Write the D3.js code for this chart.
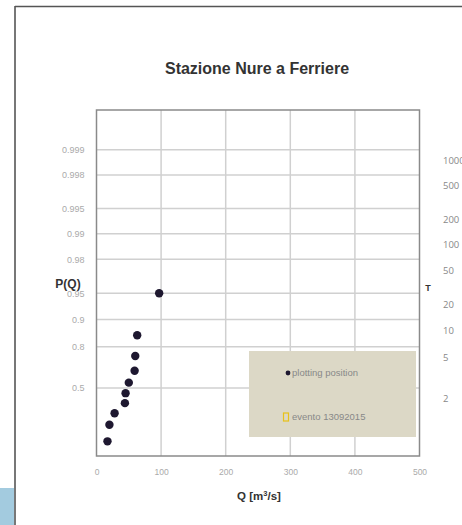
<!DOCTYPE html>
<html><head><meta charset="utf-8">
<script src="https://cdn.jsdelivr.net/npm/d3@7/dist/d3.min.js"></script>
<style>body{margin:0;background:#fff}svg{display:block}</style>
</head><body>
<svg id="c" width="462" height="525"></svg>
<script>
// ---- data ----
const qValues = [17, 20, 28, 44, 45, 50, 59, 60, 63, 97];          // Q [m3/s]
const pValues = [0.05, 0.15, 0.25, 0.35, 0.45, 0.55, 0.65, 0.75, 0.85, 0.95]; // plotting position
const evento = [];                                                    // evento 13092015 (not visible)
const xTicks = [0, 100, 200, 300, 400, 500];
const pTicks = [0.5, 0.8, 0.9, 0.95, 0.98, 0.99, 0.995, 0.998, 0.999];
const pTickLabels = ["0.5", "0.8", "0.9", "0.95", "0.98", "0.99", "0.995", "0.998", "0.999"];
const tTicks = [2, 5, 10, 20, 50, 100, 200, 500, 1000];
const legendLabels = ["plotting position", "evento 13092015"];

const gumbel = p => -Math.log(-Math.log(p));
const svg = d3.select("#c");
const F = "'Liberation Sans', Arial, sans-serif";

// frame
svg.append("rect").attr("x",0).attr("y",488).attr("width",14).attr("height",37).attr("fill","#a3cbdf");
svg.append("line").attr("x1",15).attr("x2",15).attr("y1",6).attr("y2",525).attr("stroke","#555").attr("stroke-width",1.6);
svg.append("line").attr("x1",15).attr("x2",462).attr("y1",6.5).attr("y2",6.5).attr("stroke","#555").attr("stroke-width",1.6);

const L = 96.5, R = 419.5, T = 110, B = 456;
const x = d3.scaleLinear().domain([0, 500]).range([L, R]);
const y = d3.scaleLinear().domain([-1.5, 8]).range([B, T]);

// title
svg.append("text").attr("x",257).attr("y",74).attr("text-anchor","middle")
  .attr("font-family",F).attr("font-weight","bold").attr("font-size",16).attr("fill","#333")
  .text("Stazione Nure a Ferriere");

// grid
const g = svg.append("g");
g.selectAll(".vg").data(xTicks.slice(1,-1)).join("line")
  .attr("x1",d=>x(d)).attr("x2",d=>x(d)).attr("y1",T).attr("y2",B)
  .attr("stroke","#d0d0d0").attr("stroke-width",1.5);
g.selectAll(".hg").data(pTicks).join("line")
  .attr("x1",L).attr("x2",R).attr("y1",d=>y(gumbel(d))).attr("y2",d=>y(gumbel(d)))
  .attr("stroke","#d0d0d0").attr("stroke-width",1.5);
svg.append("rect").attr("x",L).attr("y",T).attr("width",R-L).attr("height",B-T)
  .attr("fill","none").attr("stroke","#8a8a8a").attr("stroke-width",1.5);

// axes
const xa = svg.append("g").attr("transform",`translate(0,${B})`)
  .call(d3.axisBottom(x).tickValues(xTicks).tickSize(0).tickPadding(13).tickFormat(d3.format("d")));
xa.select(".domain").remove();
xa.selectAll("text").attr("font-family",F).attr("font-size",8.5).attr("fill","#aaa");

const ya = svg.append("g").attr("transform",`translate(${L},0)`)
  .call(d3.axisLeft(y).tickValues(pTicks.map(gumbel)).tickSize(0).tickPadding(12)
    .tickFormat((d,i)=>pTickLabels[i]));
ya.select(".domain").remove();
ya.selectAll("text").attr("font-family",F).attr("font-size",9).attr("fill","#aaa");

// right T labels
svg.selectAll(".tl").data(tTicks).join("text")
  .attr("x",443).attr("y",d=>y(gumbel(1-1/d))+11).attr("dy","0.35em")
  .attr("font-family","'Open Sans', sans-serif").attr("font-size",9.5).attr("fill","#888")
  .text(d=>d);

// axis titles
svg.append("text").attr("x",68).attr("y",288).attr("text-anchor","middle")
  .attr("font-family",F).attr("font-weight","bold").attr("font-size",12).attr("fill","#333").text("P(Q)");
svg.append("text").attr("x",428).attr("y",291).attr("text-anchor","middle")
  .attr("font-family",F).attr("font-weight","bold").attr("font-size",9).attr("fill","#333").text("T");
const xt = svg.append("text").attr("x",259).attr("y",500).attr("text-anchor","middle")
  .attr("font-family",F).attr("font-weight","bold").attr("font-size",11.5).attr("fill","#333");
xt.append("tspan").text("Q [m");
xt.append("tspan").attr("font-size",7.5).attr("dy",-4).text("3");
xt.append("tspan").attr("dy",4).text("/s]");

// points
svg.selectAll(".pt").data(qValues.map((q,i)=>({q,p:pValues[i]}))).join("circle")
  .attr("cx",d=>x(d.q)).attr("cy",d=>y(gumbel(d.p))).attr("r",4.2).attr("fill","#1e1830");
svg.selectAll(".ev").data(evento).join("rect")
  .attr("x",d=>x(d.q)-3).attr("y",d=>y(gumbel(d.p))-3).attr("width",6).attr("height",6)
  .attr("fill","none").attr("stroke","#e8c21a");

// legend
svg.append("rect").attr("x",249).attr("y",351).attr("width",167).attr("height",86).attr("fill","#dcd8c6");
svg.append("circle").attr("cx",288).attr("cy",373).attr("r",2.4).attr("fill","#1e1830");
svg.append("rect").attr("x",283.5).attr("y",413).attr("width",5).attr("height",8).attr("fill","none")
  .attr("stroke","#e8c21a").attr("stroke-width",1.2);
svg.selectAll(".lg").data(legendLabels).join("text")
  .attr("x",292).attr("y",(d,i)=>i?417:373).attr("dy","0.35em")
  .attr("font-family",F).attr("font-size",9.5).attr("fill","#888").text(d=>d);
</script>
</body></html>
